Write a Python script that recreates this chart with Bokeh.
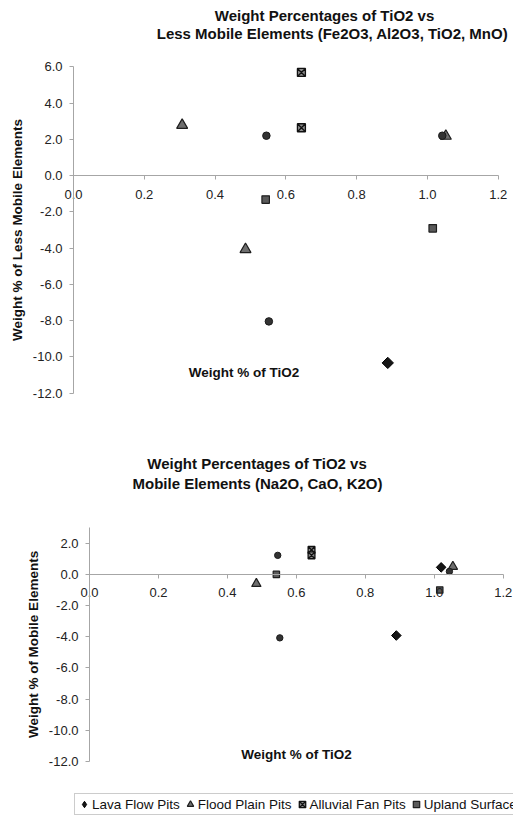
from bokeh.plotting import figure
from bokeh.models import (Range1d, FixedTicker, PrintfTickFormatter, Label,
                          Legend, LegendItem)
from bokeh.layouts import column
from bokeh.embed import file_html
from bokeh.resources import INLINE

FONT = "Liberation Sans"

# ---------------- data: chart 1 (Less mobile elements) ----------------
c1_lava_x = [0.888]
c1_lava_y = [-10.33]
c1_flood_x = [0.307, 0.486, 1.052]
c1_flood_y = [2.78, -4.07, 2.18]
c1_alluvial_x = [0.644, 0.644]
c1_alluvial_y = [5.69, 2.64]
c1_upland_x = [0.543, 1.015]
c1_upland_y = [-1.32, -2.91]
c1_other_x = [0.545, 0.552, 1.042]
c1_other_y = [2.20, -8.04, 2.20]

# ---------------- data: chart 2 (Mobile elements) ----------------
c2_lava_x = [0.890, 1.020]
c2_lava_y = [-3.92, 0.45]
c2_flood_x = [0.484, 1.054]
c2_flood_y = [-0.60, 0.50]
c2_alluvial_x = [0.644, 0.644]
c2_alluvial_y = [1.57, 1.22]
c2_upland_x = [0.542, 1.016]
c2_upland_y = [0.00, -1.00]
c2_other_x = [0.546, 0.552, 1.044]
c2_other_y = [1.22, -4.07, 0.19]

x_min, x_max = 0.0, 1.2
x_ticks = [0.0, 0.2, 0.4, 0.6, 0.8, 1.0, 1.2]
y1_min, y1_max = -12, 6
y1_ticks = [-12, -10, -8, -6, -4, -2, 0, 2, 4, 6]
y2_min, y2_max = -12, 3
y2_ticks = [-12, -10, -8, -6, -4, -2, 0, 2]

series_names = ["Lava Flow Pits", "Flood Plain Pits", "Alluvial Fan Pits",
                "Upland Surface Pits"]

title1 = ["Weight Percentages of TiO2 vs",
          "Less Mobile Elements (Fe2O3, Al2O3, TiO2, MnO)"]
title2 = ["Weight Percentages of TiO2 vs",
          "Mobile Elements (Na2O, CaO, K2O)"]
ylabel1 = "Weight % of Less Mobile Elements"
ylabel2 = "Weight % of Mobile Elements"
xlabel = "Weight % of TiO2"

AXC = "#a6a6a6"
W = 513


class Frame:
    """Map canvas pixels to data for a figure whose frame fills the canvas."""

    def __init__(self, H, X0, X1, Y0, Y1, ymin, ymax):
        self.xs = (X1 - X0) / (x_max - x_min)
        self.ys = (Y1 - Y0) / (ymax - ymin)
        self.x0 = x_min - X0 / self.xs
        self.x1 = x_max + (W - X1) / self.xs
        self.y1 = ymax + Y0 / self.ys
        self.y0 = ymin - (H - Y1) / self.ys

    def dx(self, px):
        return self.x0 + px / self.xs

    def dy(self, py):
        return self.y1 - py / self.ys


def make_fig(H, fr, ymin, ymax, yticks, ylab, ylab_standoff):
    p = figure(width=W, height=H, x_range=Range1d(fr.x0, fr.x1),
               y_range=Range1d(fr.y0, fr.y1), output_backend="svg",
               toolbar_location=None, title=None, min_border=0,
               min_border_left=0, min_border_right=0,
               min_border_top=0, min_border_bottom=0)
    p.xaxis.fixed_location = 0
    p.yaxis.fixed_location = 0
    for ax in (p.xaxis[0], p.yaxis[0]):
        ax.axis_line_color = AXC
        ax.major_tick_line_color = AXC
        ax.minor_tick_line_color = None
        ax.major_tick_out = 4
        ax.major_tick_in = 0
        ax.major_label_text_font = FONT
        ax.major_label_text_font_size = "13px"
        ax.major_label_text_color = "#222222"
        ax.formatter = PrintfTickFormatter(format="%.1f")
    p.xaxis.ticker = FixedTicker(ticks=x_ticks)
    p.yaxis.ticker = FixedTicker(ticks=yticks)
    p.xaxis.bounds = (x_min, x_max)
    p.yaxis.bounds = (ymin, ymax)
    p.xaxis.major_label_standoff = 10
    p.yaxis.major_label_standoff = 7
    p.yaxis.axis_label = ylab
    p.yaxis.axis_label_text_font = FONT
    p.yaxis.axis_label_text_font_size = "13.5px"
    p.yaxis.axis_label_text_font_style = "bold"
    p.yaxis.axis_label_text_color = "#111111"
    p.yaxis.axis_label_standoff = ylab_standoff
    p.xgrid.visible = False
    p.ygrid.visible = False
    p.outline_line_color = None
    return p


LAVA = dict(fill_color="#161616", line_color="#000000")


def add_points(p, data, k):
    lx, ly, fx, fy, ax_, ay, ux, uy, ox, oy = data
    r_lava = p.scatter(lx, ly, marker="square", angle=0.785398, size=8 * k,
                       **LAVA)
    r_flood = p.scatter(fx, fy, marker="triangle", size=11 * k,
                        fill_color="#6e6e6e", line_color="#1e1e1e", line_width=1.2)
    r_all = p.scatter(ax_, ay, marker="square_x", size=8 * k,
                      fill_color="#8c8c8c", line_color="#111111", line_width=1.3)
    r_up = p.scatter(ux, uy, marker="square", size=7.5 * k,
                     fill_color="#5a5a5a", line_color="#1e1e1e", line_width=1.2)
    p.scatter(ox, oy, marker="circle", size=7.5 * k,
              fill_color="#333333", line_color="#1a1a1a")
    return [r_lava, r_flood, r_all, r_up]


def add_text(p, fr, txt, px, py, size):
    p.add_layout(Label(x=fr.dx(px), y=fr.dy(py), text=txt, text_font=FONT,
                       text_font_size=size, text_font_style="bold",
                       text_color="#111111", text_align="center",
                       text_baseline="middle"))


# ---------------- chart 1 ----------------
H1 = 410
fr1 = Frame(H1, 73.0, 497.7, 66.3, 392.7, y1_min, y1_max)
p1 = make_fig(H1, fr1, y1_min, y1_max, y1_ticks, ylabel1, 5)
add_points(p1, [c1_lava_x, c1_lava_y, c1_flood_x, c1_flood_y,
                c1_alluvial_x, c1_alluvial_y, c1_upland_x, c1_upland_y,
                c1_other_x, c1_other_y], 1.0)
add_text(p1, fr1, title1[0], 324, 15, "15px")
add_text(p1, fr1, title1[1], 332, 33, "15px")
add_text(p1, fr1, xlabel, 243.5, 372, "13.5px")

# ---------------- chart 2 ----------------
H2 = 406
fr2 = Frame(H2, 89.0, 502.7, 117.1, 351.0, y2_min, y2_max)
p2 = make_fig(H2, fr2, y2_min, y2_max, y2_ticks, ylabel2, 5)
rends = add_points(p2, [c2_lava_x, c2_lava_y, c2_flood_x, c2_flood_y,
                        c2_alluvial_x, c2_alluvial_y, c2_upland_x, c2_upland_y,
                        c2_other_x, c2_other_y], 0.85)
# legend swatch for the lava series: a diamond (legend swatches drop rotation)
lava_key = p2.scatter(c2_lava_x, c2_lava_y, marker="diamond", size=0, **LAVA)
rends[0] = lava_key
add_text(p2, fr2, title2[0], 256.5, 53, "15px")
add_text(p2, fr2, title2[1], 257, 73, "15px")
add_text(p2, fr2, xlabel, 296, 344.3, "13.5px")

legend = Legend(items=[LegendItem(label=n, renderers=[r])
                       for n, r in zip(series_names, rends)],
                location=(74, 1), orientation="horizontal",
                label_text_font=FONT, label_text_font_size="13.5px",
                label_text_color="#111111", label_height=18, label_width=10,
                glyph_width=16, glyph_height=18, label_standoff=0,
                spacing=2, padding=1, margin=0,
                border_line_color="#9a9a9a", background_fill_alpha=1)
p2.add_layout(legend)

layout = column(p1, p2)
open("out.html", "w").write(file_html(layout, INLINE))
